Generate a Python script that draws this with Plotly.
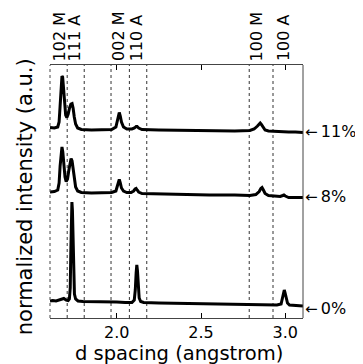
import plotly.graph_objects as go

# d spacing (angstrom) and normalized intensity (a.u., offset traces)
d_0 = [1.604, 1.62, 1.64, 1.66, 1.675, 1.686, 1.70, 1.712, 1.719, 1.724, 1.728, 1.731, 1.734, 1.737, 1.740, 1.744, 1.749, 1.756, 1.77, 1.80,
       1.85, 1.90, 1.95, 2.00, 2.05, 2.09, 2.104, 2.110, 2.115, 2.119, 2.123, 2.127, 2.133, 2.142, 2.16, 2.25, 2.40, 2.55,
       2.70, 2.85, 2.95, 2.975, 2.983, 2.990, 2.994, 2.999, 3.005, 3.013, 3.025, 3.05, 3.08, 3.105]
i_0 = [17, 17.5, 17, 18, 18.5, 19.5, 18, 17.5, 19, 30, 70, 108, 116, 108, 75, 40, 24, 19, 17, 16.5,
       16.5, 16, 16, 16, 15.5, 15.5, 18, 28, 45, 53, 47, 32, 20, 16.5, 15.5, 15, 14.5, 14,
       13.5, 13, 13, 14, 20, 26, 28, 25, 19, 15, 13, 12.5, 12, 12]

d_8 = [1.604, 1.63, 1.65, 1.658, 1.664, 1.670, 1.675, 1.680, 1.686, 1.693, 1.700, 1.708, 1.716, 1.723, 1.729, 1.735, 1.741, 1.748, 1.756, 1.768, 1.79,
       1.85, 1.92, 1.97, 1.995, 2.005, 2.010, 2.015, 2.021, 2.028, 2.04, 2.06, 2.085, 2.100, 2.109, 2.115, 2.121, 2.13, 2.15,
       2.25, 2.40, 2.55, 2.70, 2.79, 2.825, 2.845, 2.855, 2.862, 2.870, 2.88, 2.90, 2.94, 2.97, 2.985, 2.992, 3.00, 3.02, 3.06, 3.105]
i_8 = [126, 126.5, 128, 135, 152, 166, 171, 166, 152, 141, 136.5, 139, 148, 156, 159.5, 157, 149, 139, 131, 127, 125.5,
       125, 125, 125.5, 127, 133, 137, 138.5, 135, 130, 127, 125.5, 125.5, 127, 129, 129.5, 128, 126, 124.5,
       124, 123.5, 123, 123, 122.5, 123.5, 126.5, 129.5, 130.5, 128, 124.5, 122.5, 121.5, 121.5, 122.5, 123, 122, 120.5, 120.5, 120.5]

d_11 = [1.604, 1.63, 1.65, 1.658, 1.664, 1.670, 1.675, 1.679, 1.684, 1.690, 1.697, 1.704, 1.712, 1.720, 1.728, 1.735, 1.741, 1.748, 1.756, 1.768, 1.79,
        1.85, 1.92, 1.97, 1.995, 2.005, 2.010, 2.015, 2.021, 2.028, 2.04, 2.06, 2.09, 2.105, 2.115, 2.121, 2.13, 2.15,
        2.25, 2.40, 2.55, 2.70, 2.79, 2.815, 2.835, 2.845, 2.851, 2.858, 2.868, 2.88, 2.90, 2.94, 2.98, 3.02, 3.06, 3.105]
i_11 = [190.5, 190, 191, 196, 212, 232, 242, 241, 228, 212, 203, 200.5, 204, 210, 214, 214.5, 210, 201, 194, 190, 188.5,
        188, 188, 188.5, 191, 198, 203, 205.5, 202, 196, 191, 189, 189, 190, 191.5, 191.5, 190, 188.5,
        188, 187.5, 187, 187, 187.5, 189, 192, 194, 195, 193.5, 190.5, 188, 187, 186.5, 186.5, 186, 186, 185.5]

marker_d = [1.706, 1.807, 1.966, 2.075, 2.178, 2.786, 2.927]
peak_labels = ["102 M", "111 A", "002 M", "110 A", "100 M", "100 A"]
peak_label_d = [1.663, 1.752, 2.010, 2.119, 2.832, 2.990]
series_names = ["0%", "8%", "11%"]
series_label_y = [10, 122, 187]
x_ticks = [2.0, 2.5, 3.0]
x_tick_text = ["2.0", "2.5", "3.0"]

FONT = "DejaVu Sans"
XR = [1.604, 3.105]
YR = [0, 253]

fig = go.Figure()
for dd, ii in [(d_0, i_0), (d_8, i_8), (d_11, i_11)]:
    fig.add_trace(go.Scatter(x=dd, y=ii, mode="lines",
                             line=dict(color="black", width=3),
                             showlegend=False, hoverinfo="skip"))

shapes = []
for xv in marker_d:
    shapes.append(dict(type="line", xref="x", yref="paper", x0=xv, x1=xv, y0=0, y1=1,
                       line=dict(color="#333333", width=1, dash="dot"), layer="below"))
# left frame (dotted look) and right frame
shapes.append(dict(type="line", xref="paper", yref="paper", x0=0, x1=0, y0=0, y1=1,
                   line=dict(color="#444444", width=1, dash="dot")))
shapes.append(dict(type="line", xref="paper", yref="paper", x0=1, x1=1, y0=0, y1=1,
                   line=dict(color="#444444", width=1)))

annotations = []
for txt, xv in zip(peak_labels, peak_label_d):
    annotations.append(dict(text=txt, x=xv, xref="x", y=1, yref="paper",
                            xanchor="center", yanchor="bottom", yshift=2, textangle=-90,
                            showarrow=False, font=dict(family=FONT, size=16, color="black")))
for txt, yv in zip(series_names, series_label_y):
    annotations.append(dict(text="<span style='font-size:15px'>\u2190</span>\u2009" + txt,
                            x=1, xref="paper", y=yv, yref="y",
                            xanchor="left", yanchor="middle", xshift=0, showarrow=False,
                            font=dict(family=FONT, size=16, color="black")))
annotations.append(dict(text="normalized intensity (a.u.)", x=-0.1, xref="paper", y=0.48, yref="paper",
                        xanchor="center", yanchor="middle", textangle=-90, showarrow=False,
                        font=dict(family=FONT, size=21, color="black")))
annotations.append(dict(text="d spacing (angstrom)", x=0.51, xref="paper", y=0, yref="paper",
                        xanchor="center", yanchor="middle", yshift=-35, showarrow=False,
                        font=dict(family=FONT, size=19.5, color="black")))

# the page body adds an 8px offset, so the figure is 8px smaller with 8px smaller top/left margins
fig.update_layout(
    width=355, height=356,
    margin=dict(l=42, r=60, t=57, b=46, pad=0),
    paper_bgcolor="white", plot_bgcolor="white",
    shapes=shapes, annotations=annotations,
    xaxis=dict(range=XR, tickvals=x_ticks, ticktext=x_tick_text, ticks="inside", ticklen=5,
               tickcolor="black", showline=True, linecolor="#444444", linewidth=1, mirror="allticks",
               showgrid=False, zeroline=False,
               tickfont=dict(family=FONT, size=16, color="black")),
    yaxis=dict(range=YR, showticklabels=False, ticks="", showline=False, showgrid=False, zeroline=False),
)

fig.write_html("out.html")
